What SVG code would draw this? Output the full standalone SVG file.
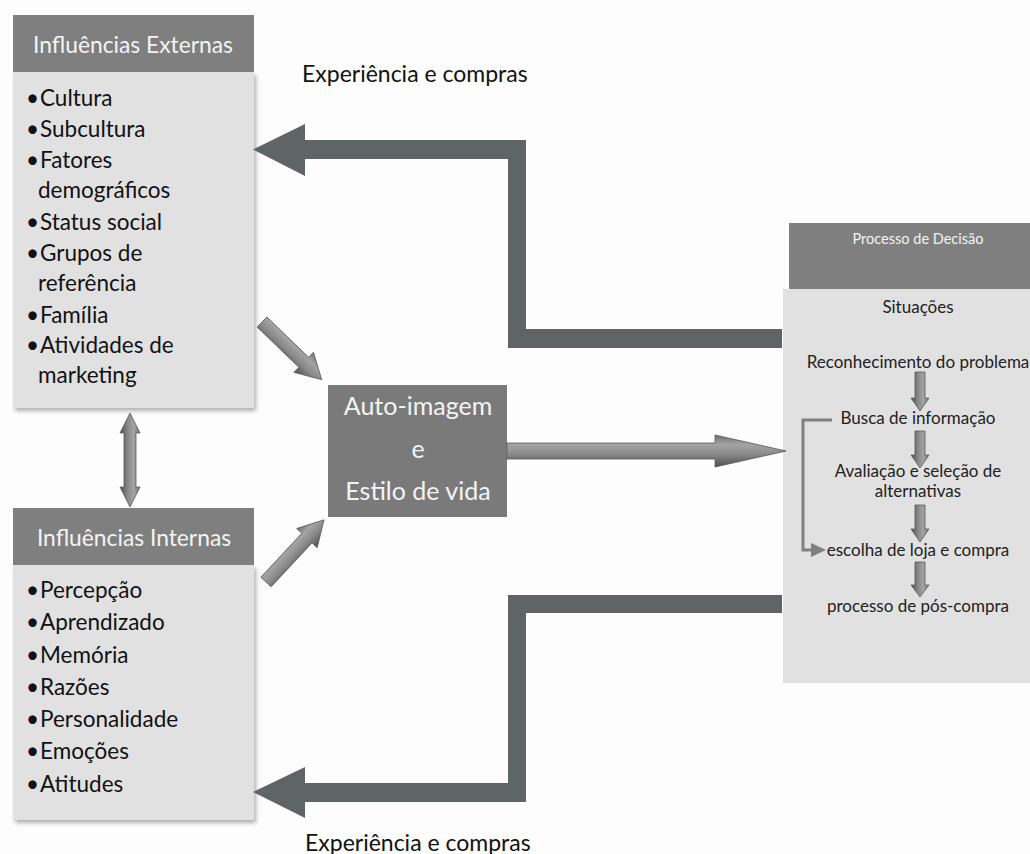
<svg xmlns="http://www.w3.org/2000/svg" width="1030" height="854" viewBox="0 0 1030 854">
<defs>
<style>
.hdr{fill:#7f7f7f}
.body{fill:#e1e1e1}
.htxt{font-family:Lato,"Open Sans",sans-serif;fill:#f4f4f4;text-anchor:middle}
.list{font-family:Lato,"Open Sans",sans-serif;font-size:22.5px;fill:#111}
.ptxt{font-family:Lato,"Open Sans",sans-serif;font-size:17px;fill:#222;text-anchor:middle}
.lbl{font-family:Lato,"Open Sans",sans-serif;font-size:23px;fill:#111}
.bar{fill:#5f6565}
.g3d{fill:url(#gr);stroke:#5a5a5a;stroke-width:0.8}
</style>
<linearGradient id="gr" x1="0" y1="0" x2="0" y2="1">
<stop offset="0" stop-color="#6e6e6e"/>
<stop offset="0.3" stop-color="#a4a4a4"/>
<stop offset="0.6" stop-color="#8a8a8a"/>
<stop offset="1" stop-color="#4a5050"/>
</linearGradient>
<filter id="sh" x="-5%" y="-5%" width="115%" height="115%">
<feDropShadow dx="2" dy="3" stdDeviation="2" flood-color="#000" flood-opacity="0.3"/>
</filter>
</defs>
<rect width="1030" height="854" fill="#fdfdfd"/>

<g id="externas">
<rect class="body" x="13" y="72" width="241" height="336" filter="url(#sh)"/>
<rect class="hdr" x="13" y="15" width="241" height="57"/>
<text class="htxt" x="133" y="53" font-size="22.8">Influências Externas</text>
<g class="list">
<text x="26" y="106">•</text><text x="40" y="106">Cultura</text>
<text x="26" y="137">•</text><text x="40" y="137">Subcultura</text>
<text x="26" y="168">•</text><text x="40" y="168">Fatores</text>
<text x="38" y="198">demográficos</text>
<text x="26" y="230">•</text><text x="40" y="230">Status social</text>
<text x="26" y="261">•</text><text x="40" y="261">Grupos de</text>
<text x="38" y="291">referência</text>
<text x="26" y="323">•</text><text x="40" y="323">Família</text>
<text x="26" y="353">•</text><text x="40" y="353">Atividades de</text>
<text x="38" y="383">marketing</text>
</g>
</g>

<g id="internas">
<rect class="body" x="13" y="565" width="241" height="255" filter="url(#sh)"/>
<rect class="hdr" x="13" y="508" width="241" height="57"/>
<text class="htxt" x="134" y="546" font-size="22.8">Influências Internas</text>
<g class="list">
<text x="26" y="598">•</text><text x="40" y="598">Percepção</text>
<text x="26" y="630">•</text><text x="40" y="630">Aprendizado</text>
<text x="26" y="663">•</text><text x="40" y="663">Memória</text>
<text x="26" y="695">•</text><text x="40" y="695">Razões</text>
<text x="26" y="727">•</text><text x="40" y="727">Personalidade</text>
<text x="26" y="759">•</text><text x="40" y="759">Emoções</text>
<text x="26" y="792">•</text><text x="40" y="792">Atitudes</text>
</g>
</g>

<g id="autoimagem">
<rect x="328" y="385" width="179" height="132" fill="#7a7a7a"/>
<text class="htxt" x="418" y="415" font-size="25">Auto-imagem</text>
<text class="htxt" x="418" y="458" font-size="25">e</text>
<text class="htxt" x="418" y="500" font-size="25">Estilo de vida</text>
</g>

<g id="decisao">
<rect class="body" x="783" y="289" width="247" height="394"/>
<rect class="hdr" x="789" y="223" width="241" height="66"/>
<text class="htxt" x="918" y="244" font-size="14.5">Processo de Decisão</text>
<text class="ptxt" x="918" y="313">Situações</text>
<text class="ptxt" x="918" y="368">Reconhecimento do problema</text>
<text class="ptxt" x="918" y="424">Busca de informação</text>
<text class="ptxt" x="918" y="477">Avaliação e seleção de</text>
<text class="ptxt" x="918" y="497">alternativas</text>
<text class="ptxt" x="918" y="556">escolha de loja e compra</text>
<text class="ptxt" x="918" y="612">processo de pós-compra</text>
<g id="small-arrows">
<path class="g3d" transform="translate(920,372) rotate(90)" d="M0,-5 L26,-5 L26,-9 L39,0 L26,9 L26,5 L0,5 Z"/>
<path class="g3d" transform="translate(920,431) rotate(90)" d="M0,-5 L24,-5 L24,-9 L37,0 L24,9 L24,5 L0,5 Z"/>
<path class="g3d" transform="translate(920,505) rotate(90)" d="M0,-5 L24,-5 L24,-9 L37,0 L24,9 L24,5 L0,5 Z"/>
<path class="g3d" transform="translate(920,562) rotate(90)" d="M0,-5 L23,-5 L23,-9 L35,0 L23,9 L23,5 L0,5 Z"/>
</g>
<polyline points="832,420 803,420 803,550 813,550" fill="none" stroke="#808080" stroke-width="3"/>
<path d="M811,543 L826,550 L811,557 Z" fill="#808080"/>
</g>

<g id="connectors">
<path class="bar" d="M253,149.5 L305,124 L305,140 L526,140 L526,329 L782,329 L782,348 L508,348 L508,159 L305,159 L305,176 Z"/>
<path class="bar" d="M253,792 L305,767 L305,783 L508,783 L508,595 L782,595 L782,613 L526,613 L526,802 L305,802 L305,818 Z"/>
<path class="g3d" transform="translate(507,451)" d="M0,-8 L208,-8 L208,-16 L279,0 L208,16 L208,8 L0,8 Z"/>
<path class="g3d" transform="translate(262,322) rotate(44)" d="M0,-7 L58,-7 L58,-14 L83,0 L58,14 L58,7 L0,7 Z"/>
<path class="g3d" transform="translate(266,582) rotate(-47)" d="M0,-7 L60,-7 L60,-14 L85,0 L60,14 L60,7 L0,7 Z"/>
<path class="g3d" transform="translate(130,413) rotate(90)" d="M0,0 L20,-10 L20,-6 L74,-6 L74,-10 L94,0 L74,10 L74,6 L20,6 L20,10 Z"/>
</g>

<g id="labels">
<text class="lbl" x="302" y="82">Experiência e compras</text>
<text class="lbl" x="305" y="851">Experiência e compras</text>
</g>
</svg>
